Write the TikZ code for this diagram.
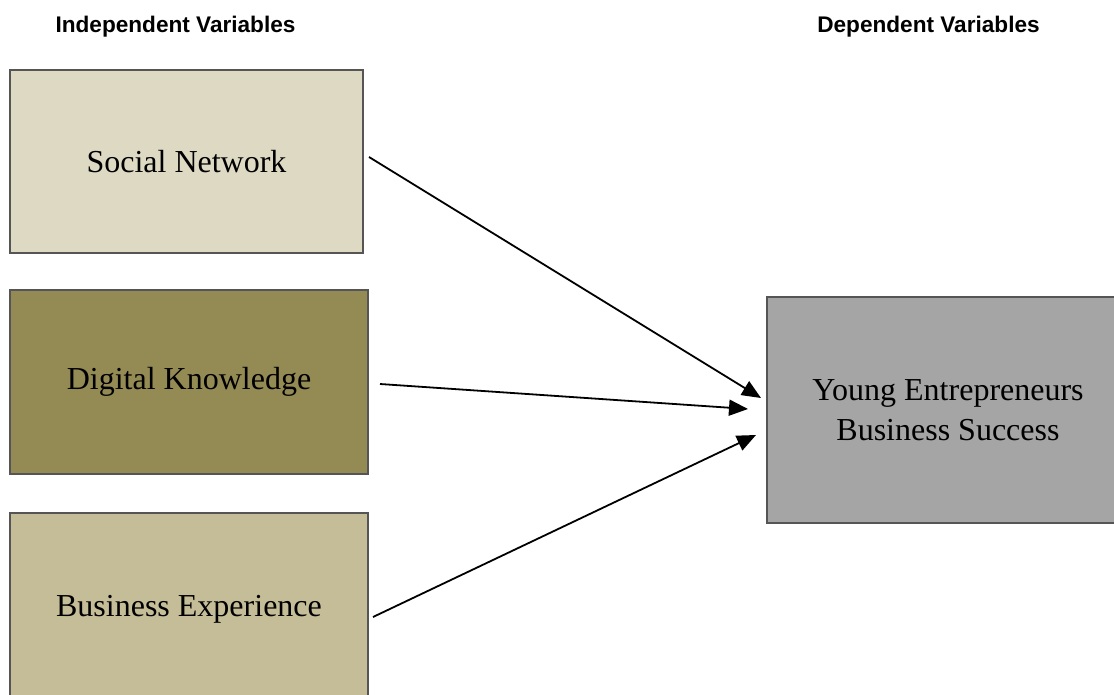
\documentclass[tikz,border=0pt]{standalone}
\usepackage{fontspec}
\setmainfont{Liberation Serif}
\newfontfamily\hdrfont{Liberation Sans}
\usetikzlibrary{arrows.meta}
\definecolor{boxA}{HTML}{DDD9C3}
\definecolor{boxB}{HTML}{948A54}
\definecolor{boxC}{HTML}{C4BD97}
\definecolor{boxD}{HTML}{A5A5A5}
\definecolor{edgecol}{HTML}{555555}
\tikzset{
  varbox/.style={rectangle, draw=edgecol, line width=1.3pt, inner sep=0pt,
    font=\fontsize{32}{40}\selectfont, align=center},
  hdr/.style={font=\hdrfont\bfseries\fontsize{22.6}{27}\selectfont, anchor=base, inner sep=0pt},
  link/.style={line width=1.8pt, -{Triangle[length=19pt,width=16pt]}}
}
\begin{document}
\begin{tikzpicture}[x=1pt,y=-1pt]
\clip (0,0) rectangle (1114,695);
\fill[white] (0,0) rectangle (1114,695);
\node[hdr] (hi) at (175.5,33) {Independent Variables};
\node[hdr] (hd) at (928.5,33) {Dependent Variables};
\node[varbox, fill=boxA, minimum width=353pt, minimum height=183pt] (sn) at (186.5,161.5) {Social Network};
\node[varbox, fill=boxB, minimum width=358pt, minimum height=184pt] (dk) at (189,382) {Digital Knowledge};
\node[varbox, fill=boxC, minimum width=358pt, minimum height=192pt] (be) at (189,609) {Business Experience};
\node[varbox, fill=boxD, minimum width=362pt, minimum height=226pt] (ye) at (948,410) {Young Entrepreneurs\\Business Success};
\coordinate (s1) at (369,157);
\coordinate (e1) at (761,398);
\coordinate (s2) at (380,384);
\coordinate (e2) at (748,409);
\coordinate (s3) at (373,617);
\coordinate (e3) at (756,435);
\draw[link] (s1) -- (e1);
\draw[link] (s2) -- (e2);
\draw[link] (s3) -- (e3);
\end{tikzpicture}
\end{document}
